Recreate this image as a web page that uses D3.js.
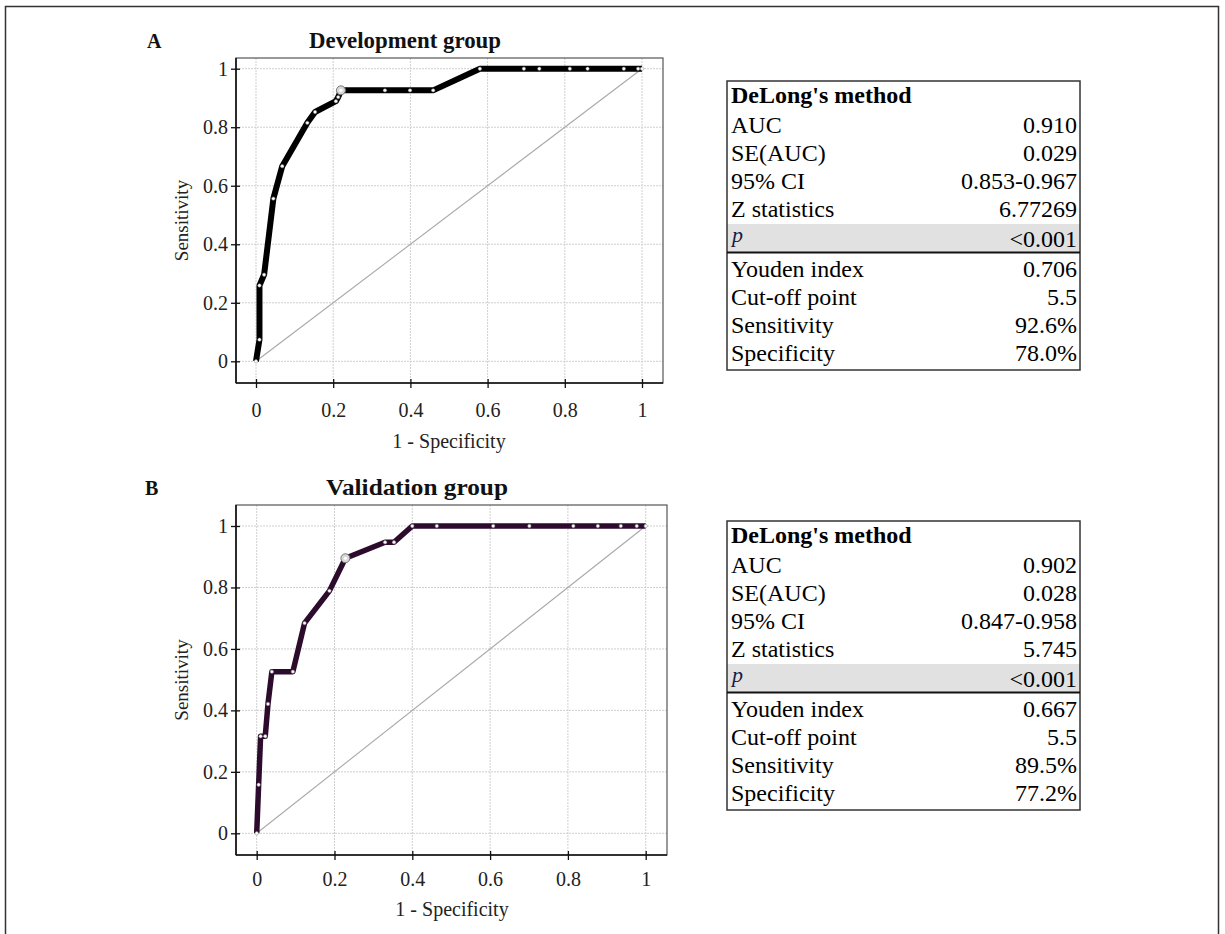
<!DOCTYPE html>
<html>
<head>
<meta charset="utf-8">
<script src="https://cdn.jsdelivr.net/npm/d3@7"></script>
<style>
  html, body { margin: 0; padding: 0; background: #fff; }
  svg { display: block; }
  text { font-family: "Liberation Serif", "Times New Roman", serif; }
</style>
</head>
<body>
<svg id="chart" width="1225" height="934"></svg>
<script>
// ---------------- DATA ----------------
const panelLetters = ["A", "B"];
const panelTitles = ["Development group", "Validation group"];
const xAxisTitle = "1 - Specificity";
const yAxisTitle = "Sensitivity";
const xTicks = [0, 0.2, 0.4, 0.6, 0.8, 1];
const yTicks = [0, 0.2, 0.4, 0.6, 0.8, 1];

// Development group ROC (1 - specificity, sensitivity)
const devFpr = [0, 0.009, 0.009, 0.021, 0.045, 0.068, 0.133, 0.153, 0.207, 0.213, 0.22, 0.334, 0.399, 0.459, 0.58, 0.694, 0.734, 0.813, 0.859, 0.953, 0.99, 1];
const devTpr = [0, 0.074, 0.259, 0.296, 0.556, 0.667, 0.815, 0.852, 0.889, 0.903, 0.926, 0.926, 0.926, 0.926, 1, 1, 1, 1, 1, 1, 1, 1];
const devCutoff = [0.22, 0.926];

// Validation group ROC
const valFpr = [0, 0.005, 0.010, 0.022, 0.029, 0.039, 0.093, 0.123, 0.187, 0.228, 0.33, 0.353, 0.4, 0.463, 0.608, 0.701, 0.814, 0.877, 0.936, 0.977, 1];
const valTpr = [0, 0.158, 0.316, 0.316, 0.421, 0.526, 0.526, 0.684, 0.789, 0.895, 0.947, 0.947, 1, 1, 1, 1, 1, 1, 1, 1, 1];
const valCutoff = [0.228, 0.895];

// Tables
const tableHeader = "DeLong's method";
const statLabels = ["AUC", "SE(AUC)", "95% CI", "Z statistics"];
const pLabel = "p";
const youdenLabels = ["Youden index", "Cut-off point", "Sensitivity", "Specificity"];
const devStats = ["0.910", "0.029", "0.853-0.967", "6.77269"];
const devP = "<0.001";
const devYouden = ["0.706", "5.5", "92.6%", "78.0%"];
const valStats = ["0.902", "0.028", "0.847-0.958", "5.745"];
const valP = "<0.001";
const valYouden = ["0.667", "5.5", "89.5%", "77.2%"];

// ---------------- LAYOUT ----------------
const svg = d3.select("#chart");
svg.append("rect").attr("x", 5.5).attr("y", 6.5).attr("width", 1213).attr("height", 960)
  .attr("fill", "none").attr("stroke", "#333").attr("stroke-width", 1.5);

const panels = [
  { fpr: devFpr, tpr: devTpr, cut: devCutoff, color: "#000000", lw: 6,
    frame: { l: 236, r: 663, t: 58, b: 383 },
    xr: [256, 642], yr: [361.3, 68.7],
    letter: { x: 147, y: 48 }, title: { x: 405, y: 48 },
    tickPad: 16, xTitleY: 448, xTitleX: 449, yTitleX: 188,
    table: { top: 81, stats: devStats, p: devP, you: devYouden } },
  { fpr: valFpr, tpr: valTpr, cut: valCutoff, color: "#2c0b2c", lw: 5.5,
    frame: { l: 236, r: 667, t: 505, b: 855 },
    xr: [256.7, 645.7], yr: [833.3, 526],
    letter: { x: 145, y: 495 }, title: { x: 417, y: 495 },
    tickPad: 13, xTitleY: 916, xTitleX: 452, yTitleX: 188,
    table: { top: 521, stats: valStats, p: valP, you: valYouden } }
];

panels.forEach((P, i) => {
  const g = svg.append("g");
  const x = d3.scaleLinear().domain([0, 1]).range(P.xr);
  const y = d3.scaleLinear().domain([0, 1]).range(P.yr);
  const F = P.frame;

  // letter and title
  g.append("text").attr("x", P.letter.x).attr("y", P.letter.y)
    .attr("font-size", 20).attr("font-weight", "bold").attr("fill", "#111").text(panelLetters[i]);
  g.append("text").attr("x", P.title.x).attr("y", P.title.y).attr("text-anchor", "middle")
    .attr("font-size", 24).attr("font-weight", "bold").attr("fill", "#111")
    .attr("textLength", i === 0 ? 192 : 182).attr("lengthAdjust", "spacingAndGlyphs")
    .text(panelTitles[i]);

  // grid
  g.selectAll(".vg").data(xTicks).join("line")
    .attr("x1", d => x(d)).attr("x2", d => x(d)).attr("y1", F.t).attr("y2", F.b)
    .attr("stroke", "#cfcfcf").attr("stroke-width", 1).attr("stroke-dasharray", "2,1");
  g.selectAll(".hg").data(yTicks).join("line")
    .attr("y1", d => y(d)).attr("y2", d => y(d)).attr("x1", F.l).attr("x2", F.r)
    .attr("stroke", "#cfcfcf").attr("stroke-width", 1).attr("stroke-dasharray", "2,1");

  // frame
  g.append("rect").attr("x", F.l).attr("y", F.t).attr("width", F.r - F.l).attr("height", F.b - F.t)
    .attr("fill", "none").attr("stroke", "#555").attr("stroke-width", 1.2);
  g.append("line").attr("x1", F.l).attr("x2", F.l).attr("y1", F.t).attr("y2", F.b)
    .attr("stroke", "#111").attr("stroke-width", 1.6);
  g.append("line").attr("x1", F.l).attr("x2", F.r).attr("y1", F.b).attr("y2", F.b)
    .attr("stroke", "#111").attr("stroke-width", 1.6);

  // axes
  const fmt = d => String(d);
  const xa = g.append("g").attr("transform", `translate(0,${F.b})`)
    .call(d3.axisBottom(x).tickValues(xTicks).tickFormat(fmt).tickSizeInner(4).tickSizeOuter(0).tickPadding(P.tickPad));
  xa.select(".domain").remove();
  xa.selectAll(".tick line").attr("y1", -4).attr("y2", 5).attr("stroke", "#111").attr("stroke-width", 1.3);
  xa.selectAll(".tick text").attr("font-size", 20).attr("fill", "#222")
    .style("font-family", '"Liberation Serif", "Times New Roman", serif');

  const ya = g.append("g").attr("transform", `translate(${F.l},0)`)
    .call(d3.axisLeft(y).tickValues(yTicks).tickFormat(fmt).tickSizeInner(4).tickSizeOuter(0).tickPadding(4));
  ya.select(".domain").remove();
  ya.selectAll(".tick line").attr("x1", -5).attr("x2", 4).attr("stroke", "#111").attr("stroke-width", 1.3);
  ya.selectAll(".tick text").attr("font-size", 20).attr("fill", "#222")
    .style("font-family", '"Liberation Serif", "Times New Roman", serif');

  // axis titles
  g.append("text").attr("x", P.xTitleX).attr("y", P.xTitleY).attr("text-anchor", "middle")
    .attr("font-size", 20).attr("fill", "#222").text(xAxisTitle);
  g.append("text").attr("transform", `translate(${P.yTitleX},${(F.t + F.b) / 2}) rotate(-90)`)
    .attr("text-anchor", "middle").attr("font-size", 19).attr("fill", "#222").text(yAxisTitle);

  // diagonal
  g.append("line").attr("x1", x(0)).attr("y1", y(0)).attr("x2", x(1)).attr("y2", y(1))
    .attr("stroke", "#a8a8a8").attr("stroke-width", 1.1);

  // ROC curve
  const pts = P.fpr.map((f, k) => [f, P.tpr[k]]);
  const line = d3.line().x(d => x(d[0])).y(d => y(d[1]));
  g.append("path").attr("d", line(pts)).attr("fill", "none")
    .attr("stroke", P.color).attr("stroke-width", P.lw).attr("stroke-linejoin", "round");
  g.selectAll(".pt").data(pts).join("circle")
    .attr("cx", d => x(d[0])).attr("cy", d => y(d[1])).attr("r", 1.7)
    .attr("fill", "#fff").attr("stroke", "#888").attr("stroke-width", 0.5);
  // cut-off point
  g.append("circle").attr("cx", x(P.cut[0])).attr("cy", y(P.cut[1])).attr("r", 4.5)
    .attr("fill", "#d8d8d8").attr("stroke", "#777").attr("stroke-width", 1);
  g.append("circle").attr("cx", x(P.cut[0])).attr("cy", y(P.cut[1])).attr("r", 1.6)
    .attr("fill", "#fff");

  // table
  const T = P.table;
  const tg = svg.append("g").attr("transform", `translate(0,${T.top})`);
  const L = 727, R = 1080, tx = 731, vx = 1077, fs = 24;
  tg.append("rect").attr("x", L).attr("y", 143).attr("width", R - L).attr("height", 28).attr("fill", "#e1e1e1");
  tg.append("rect").attr("x", L).attr("y", 0).attr("width", R - L).attr("height", 289)
    .attr("fill", "none").attr("stroke", "#333").attr("stroke-width", 1.5);
  tg.append("line").attr("x1", L).attr("x2", R).attr("y1", 171.5).attr("y2", 171.5)
    .attr("stroke", "#111").attr("stroke-width", 2);
  tg.append("text").attr("x", tx).attr("y", 22).attr("font-size", fs).attr("font-weight", "bold")
    .attr("fill", "#000").text(tableHeader);
  statLabels.forEach((lab, k) => {
    tg.append("text").attr("x", tx).attr("y", 52 + 28 * k).attr("font-size", fs).attr("fill", "#000").text(lab);
    tg.append("text").attr("x", vx).attr("y", 52 + 28 * k).attr("font-size", fs).attr("fill", "#000")
      .attr("text-anchor", "end").text(T.stats[k]);
  });
  tg.append("text").attr("x", tx + 1).attr("y", 161).attr("font-size", 22).attr("font-style", "italic")
    .attr("fill", "#1a1a40").text(pLabel);
  tg.append("text").attr("x", vx).attr("y", 166).attr("font-size", fs).attr("fill", "#000")
    .attr("text-anchor", "end").text(T.p);
  youdenLabels.forEach((lab, k) => {
    tg.append("text").attr("x", tx).attr("y", 196 + 28 * k).attr("font-size", fs).attr("fill", "#000").text(lab);
    tg.append("text").attr("x", vx).attr("y", 196 + 28 * k).attr("font-size", fs).attr("fill", "#000")
      .attr("text-anchor", "end").text(T.you[k]);
  });
});
</script>
</body>
</html>
